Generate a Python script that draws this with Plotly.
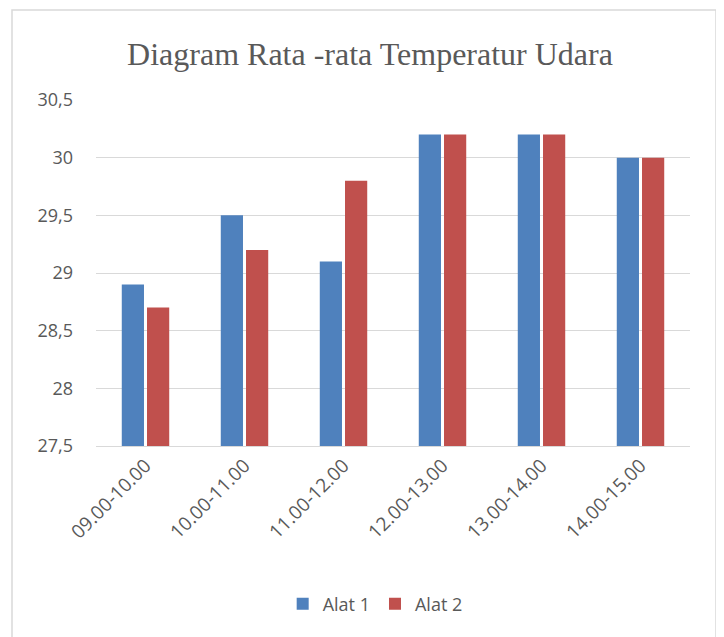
import plotly.graph_objects as go

categories = ["09.00-10.00", "10.00-11.00", "11.00-12.00", "12.00-13.00", "13.00-14.00", "14.00-15.00"]
alat1 = [28.9, 29.5, 29.1, 30.2, 30.2, 30.0]
alat2 = [28.7, 29.2, 29.8, 30.2, 30.2, 30.0]
y_tick_vals = [27.5, 28, 28.5, 29, 29.5, 30, 30.5]
y_tick_text = ["27,5", "28", "28,5", "29", "29,5", "30", "30,5"]

fig = go.Figure()
fig.add_trace(go.Bar(name="Alat 1", x=categories, y=alat1, marker=dict(color="#4F81BD", line=dict(width=0))))
fig.add_trace(go.Bar(name="Alat 2", x=categories, y=alat2, marker=dict(color="#C0504D", line=dict(width=0))))

fig.update_layout(
    width=724, height=637,
    margin=dict(l=88, r=42, t=92, b=199),
    paper_bgcolor="white", plot_bgcolor="white",
    barmode="group", bargap=0.49, bargroupgap=0.12,
    title=dict(text="Diagram Rata -rata Temperatur Udara", x=0.5, xanchor="center", y=0.928, yanchor="middle",
               font=dict(family="Liberation Serif", size=32, color="#595959")),
    font=dict(family="Open Sans", color="#595959"),
    showlegend=True,
    legend=dict(orientation="h", x=0.47, xanchor="center", y=-0.457, yanchor="middle",
                font=dict(family="Open Sans", size=18, color="#595959"), itemwidth=30),
    xaxis=dict(tickangle=-45, tickfont=dict(family="Open Sans", size=19, color="#595959"),
               showline=True, linecolor="#D9D9D9", linewidth=1, ticks="", showgrid=False),
    yaxis=dict(range=[27.5, 30.5], tickvals=y_tick_vals, ticktext=y_tick_text,
               tickfont=dict(family="Open Sans", size=18, color="#595959"),
               showgrid=True, gridcolor="#D9D9D9", gridwidth=1, zeroline=False, ticks="", ticklen=0,
               showline=False, ticklabelstandoff=22),
    shapes=[dict(type="rect", xref="paper", yref="paper",
                 x0=(12 - 96) / 594, x1=(716 - 96) / 594, y0=(446 - 660) / 346, y1=(446 - 10) / 346,
                 line=dict(color="#D9D9D9", width=1.5), fillcolor="rgba(0,0,0,0)", layer="below")],
)

fig.write_html("out.html")
